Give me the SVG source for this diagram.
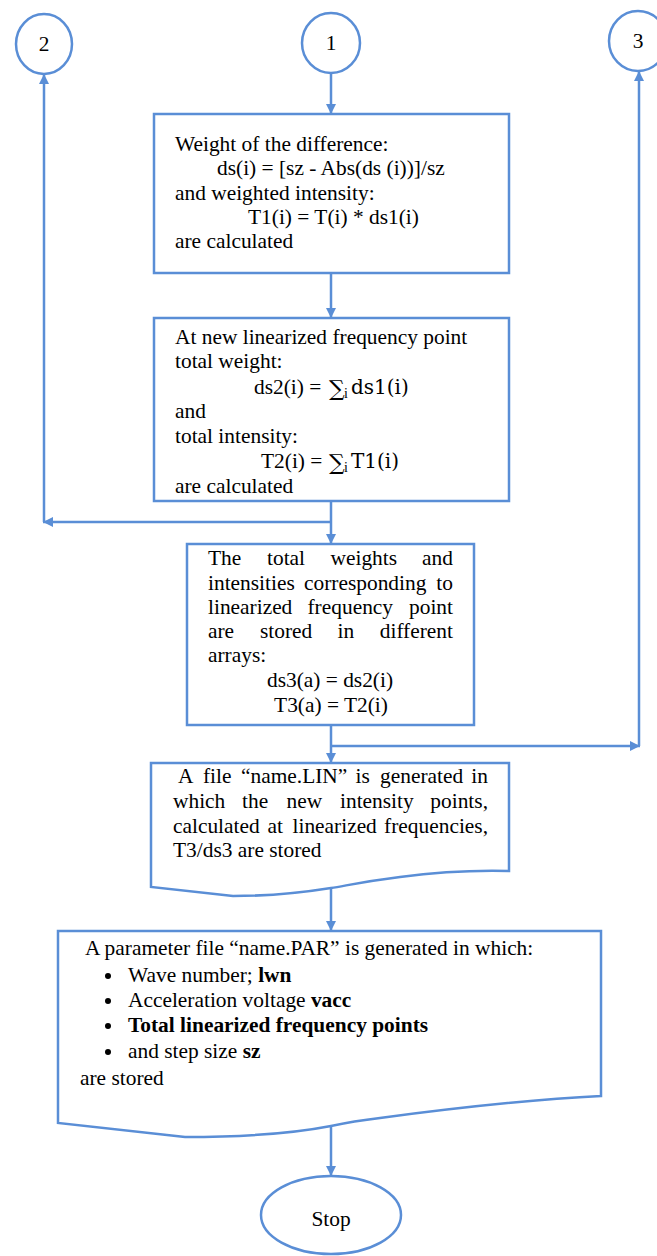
<svg xmlns="http://www.w3.org/2000/svg" width="657" height="1256" viewBox="0 0 657 1256">
  <style>
    .shape { fill: #ffffff; stroke: #5A8ED6; stroke-width: 2.5; }
    .wire { fill: none; stroke: #5A8ED6; stroke-width: 2.5; }
    .t { font-family: "Liberation Serif", "Times New Roman", serif; font-size: 21.4px; fill: #000000; }
    .m { font-family: "DejaVu Serif", serif; font-size: 20px; }
    .sum { font-family: "DejaVu Serif", serif; font-size: 22px; }
    .sub { font-size: 14px; }
    .c { text-anchor: middle; }
    .e { text-anchor: end; }
    .b { font-weight: bold; }
    .dot { fill: #000000; }
  </style>
  <defs>
    <marker id="arrow" viewBox="0 0 10 10" refX="10" refY="5" markerWidth="12" markerHeight="10" markerUnits="userSpaceOnUse" orient="auto">
      <path d="M0,0 L10,5 L0,10 Z" fill="#5A8ED6"/>
    </marker>
  </defs>

  <!-- connectors -->
  <g id="connectors">
    <line class="wire" x1="331" y1="73" x2="331" y2="114" marker-end="url(#arrow)"/>
    <line class="wire" x1="331" y1="273" x2="331" y2="318" marker-end="url(#arrow)"/>
    <line class="wire" x1="331" y1="501" x2="331" y2="544" marker-end="url(#arrow)"/>
    <line class="wire" x1="331" y1="522" x2="43" y2="522" marker-end="url(#arrow)"/>
    <line class="wire" x1="44" y1="522" x2="44" y2="74" marker-end="url(#arrow)"/>
    <line class="wire" x1="331" y1="725" x2="331" y2="763" marker-end="url(#arrow)"/>
    <line class="wire" x1="331" y1="746" x2="640" y2="746" marker-end="url(#arrow)"/>
    <line class="wire" x1="639" y1="746" x2="639" y2="71" marker-end="url(#arrow)"/>
    <line class="wire" x1="331" y1="888" x2="331" y2="931" marker-end="url(#arrow)"/>
    <line class="wire" x1="331" y1="1126" x2="331" y2="1176" marker-end="url(#arrow)"/>
  </g>

  <!-- connector circles -->
  <g id="conn-2">
    <ellipse class="shape" cx="44" cy="44" rx="28" ry="30"/>
    <text class="t c" x="44" y="51">2</text>
  </g>
  <g id="conn-1">
    <ellipse class="shape" cx="331" cy="43" rx="29" ry="30"/>
    <text class="t c" x="331" y="50">1</text>
  </g>
  <g id="conn-3">
    <ellipse class="shape" cx="638" cy="41" rx="29" ry="30"/>
    <text class="t c" x="638" y="48">3</text>
  </g>

  <!-- weight of the difference -->
  <g id="weight">
    <rect class="shape" x="154" y="114" width="355" height="159"/>
    <text class="t" x="175" y="151">Weight of the difference:</text>
    <text class="t" x="217" y="175">ds(i) = [sz - Abs(ds (i))]/sz</text>
    <text class="t" x="175" y="200">and weighted intensity:</text>
    <text class="t" x="248" y="224">T1(i) = T(i) * ds1(i)</text>
    <text class="t" x="175" y="248">are calculated</text>
  </g>

  <!-- totals at linearized point -->
  <g id="totals">
    <rect class="shape" x="154" y="318" width="355" height="183"/>
    <text class="t" x="175" y="344">At new linearized frequency point</text>
    <text class="t" x="175" y="368">total weight:</text>
    <text class="t" x="254" y="394">ds2(i) =</text>
    <text class="sum" x="329" y="396">∑</text>
    <text class="t sub" x="344" y="398">i</text>
    <text class="m" x="351" y="394">ds1(i)</text>
    <text class="t" x="175" y="418">and</text>
    <text class="t" x="175" y="443">total intensity:</text>
    <text class="t" x="261" y="468">T2(i) =</text>
    <text class="sum" x="329" y="470">∑</text>
    <text class="t sub" x="344" y="472">i</text>
    <text class="m" x="351" y="468">T1(i)</text>
    <text class="t" x="175" y="493">are calculated</text>
  </g>

  <!-- storing in arrays -->
  <g id="store">
    <rect class="shape" x="187" y="544" width="287" height="181"/>
    <text class="t" y="565"><tspan x="208">The</tspan><tspan x="267">total</tspan><tspan x="330.5">weights</tspan></text>
    <text class="t e" x="453" y="565">and</text>
    <text class="t" y="590"><tspan x="208">intensities</tspan><tspan x="304">corresponding</tspan></text>
    <text class="t e" x="453" y="590">to</text>
    <text class="t" y="614"><tspan x="208">linearized</tspan><tspan x="307.5">frequency</tspan></text>
    <text class="t e" x="453" y="614">point</text>
    <text class="t" y="638"><tspan x="208">are</tspan><tspan x="260">stored</tspan><tspan x="337.5">in</tspan></text>
    <text class="t e" x="453" y="638">different</text>
    <text class="t" x="208" y="662">arrays:</text>
    <text class="t c" x="330" y="687">ds3(a) = ds2(i)</text>
    <text class="t c" x="331" y="712">T3(a) = T2(i)</text>
  </g>

  <!-- name.LIN document -->
  <g id="lin-file">
    <path class="shape" d="M151,763 L509,763 L509,871 C470,870 430,873 400,877 C360,882 345,886 331,888 C300,893 270,896 233,896 L151,887 Z"/>
    <text class="t" y="783"><tspan x="178">A</tspan><tspan x="203">file</tspan><tspan x="241">“name.LIN”</tspan><tspan x="355.5">is</tspan><tspan x="380">generated</tspan></text>
    <text class="t e" x="488" y="783">in</text>
    <text class="t" y="808"><tspan x="173">which</tspan><tspan x="242">the</tspan><tspan x="286.5">new</tspan><tspan x="340">intensity</tspan></text>
    <text class="t e" x="488" y="808">points,</text>
    <text class="t" y="833"><tspan x="173">calculated</tspan><tspan x="267.5">at</tspan><tspan x="292.5">linearized</tspan></text>
    <text class="t e" x="488" y="833">frequencies,</text>
    <text class="t" x="173" y="857">T3/ds3 are stored</text>
  </g>

  <!-- name.PAR document -->
  <g id="par-file">
    <path class="shape" d="M58,931 L601,931 L601,1096 C520,1100 440,1110 380,1118 C355,1121 345,1123 331,1126 C290,1134 240,1137 185,1137 L58,1123 Z"/>
    <text class="t" x="85" y="955">A parameter file “name.PAR” is generated in which:</text>
    <circle class="dot" cx="108" cy="976" r="3"/>
    <text class="t" x="128" y="982">Wave number; <tspan class="b">lwn</tspan></text>
    <circle class="dot" cx="108" cy="1001" r="3"/>
    <text class="t" x="128" y="1007">Acceleration voltage <tspan class="b">vacc</tspan></text>
    <circle class="dot" cx="108" cy="1026" r="3"/>
    <text class="t b" x="128" y="1032">Total linearized frequency points</text>
    <circle class="dot" cx="108" cy="1052" r="3"/>
    <text class="t" x="128" y="1058">and step size <tspan class="b">sz</tspan></text>
    <text class="t" x="80" y="1085">are stored</text>
  </g>

  <!-- terminator -->
  <g id="stop">
    <ellipse class="shape" cx="331" cy="1215" rx="70" ry="39"/>
    <text class="t c" x="331" y="1226">Stop</text>
  </g>
</svg>
